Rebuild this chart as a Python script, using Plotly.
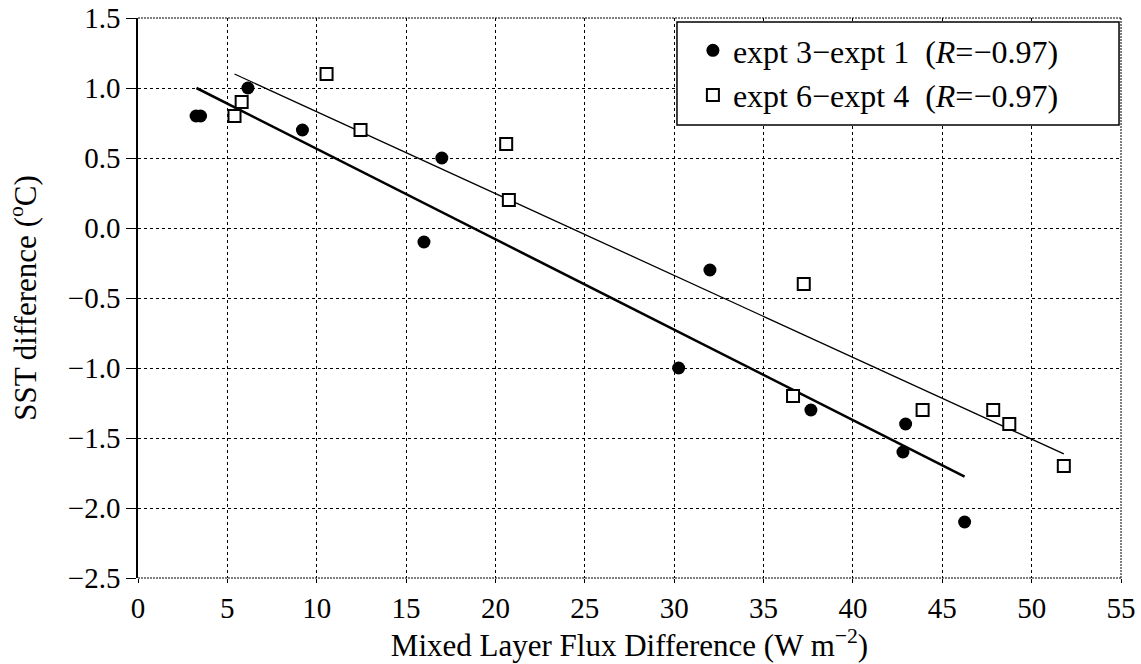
import plotly.graph_objects as go

# expt 3 - expt 1 (filled circles)
flux_31 = [3.25, 3.5, 6.15, 9.2, 16.0, 17.0, 30.25, 32.0, 37.65, 42.8, 42.95, 46.25]
sst_31 = [0.8, 0.8, 1.0, 0.7, -0.1, 0.5, -1.0, -0.3, -1.3, -1.6, -1.4, -2.1]

# expt 6 - expt 4 (open squares)
flux_64 = [5.4, 5.8, 10.55, 12.45, 20.6, 20.75, 36.65, 37.25, 43.9, 47.85, 48.75, 51.8]
sst_64 = [0.8, 0.9, 1.1, 0.7, 0.6, 0.2, -1.2, -0.4, -1.3, -1.3, -1.4, -1.7]

# regression line end points
fit31_x = [3.27, 46.25]
fit31_y = [1.0, -1.776]
fit64_x = [5.4, 51.8]
fit64_y = [1.1, -1.614]

x_ticks = [0, 5, 10, 15, 20, 25, 30, 35, 40, 45, 50, 55]
y_ticks = [1.5, 1.0, 0.5, 0.0, -0.5, -1.0, -1.5, -2.0, -2.5]

names = ["expt 3\u2212expt 1\u00a0\u00a0(<i>R</i>=\u22120.97)",
         "expt 6\u2212expt 4\u00a0\u00a0(<i>R</i>=\u22120.97)"]

FONT = "Liberation Serif"

fig = go.Figure()
fig.add_trace(go.Scatter(x=fit31_x, y=fit31_y, mode="lines",
                         line=dict(color="black", width=2.6), showlegend=False, hoverinfo="skip"))
fig.add_trace(go.Scatter(x=fit64_x, y=fit64_y, mode="lines",
                         line=dict(color="black", width=1.3), showlegend=False, hoverinfo="skip"))
fig.add_trace(go.Scatter(x=flux_31, y=sst_31, mode="markers", name=names[0],
                         marker=dict(symbol="circle", size=13, color="black",
                                     line=dict(width=0))))
fig.add_trace(go.Scatter(x=flux_64, y=sst_64, mode="markers", name=names[1],
                         marker=dict(symbol="square", size=12, color="white",
                                     line=dict(width=2, color="black"))))

# dotted frame on top, right and bottom
for x0, y0, x1, y1 in [(0, 1, 1, 1), (1, 0, 1, 1), (0, 0, 1, 0)]:
    fig.add_shape(type="line", xref="paper", yref="paper", x0=x0, y0=y0, x1=x1, y1=y1,
                  line=dict(color="black", width=1, dash="2px,1px"), layer="above")

# legend frame
fig.add_shape(type="rect", xref="paper", yref="paper", x0=0.5483, x1=0.998, y0=0.809, y1=0.993,
              fillcolor="white", line=dict(color="black", width=1.5), layer="above")

fig.update_layout(
    width=1141, height=664,
    margin=dict(l=138, r=20, t=18, b=86),
    paper_bgcolor="white", plot_bgcolor="white",
    font=dict(family=FONT, size=29, color="black"),
    showlegend=True,
    legend=dict(x=0.5645, y=0.991, xanchor="left", yanchor="top",
                bgcolor="rgba(0,0,0,0)", borderwidth=0,
                font=dict(family=FONT, size=32, color="black"),
                tracegroupgap=0),
)
fig.update_xaxes(
    range=[0, 55], tickvals=x_ticks, ticktext=[str(v) for v in x_ticks],
    showgrid=True, gridcolor="black", gridwidth=1, griddash="3px,3px",
    zeroline=False, showline=False, automargin=False,
    ticks="outside", ticklen=4, tickcolor="black",
    tickfont=dict(family=FONT, size=29),
    title=dict(text="Mixed Layer Flux Difference (W m<sup>\u22122</sup>)",
               font=dict(family=FONT, size=31), standoff=6),
)
fig.update_yaxes(
    range=[-2.5, 1.5], tickvals=y_ticks, ticktext=[f"{v:.1f}".replace("-", "\u2212") for v in y_ticks],
    showgrid=True, gridcolor="black", gridwidth=1, griddash="3px,3px",
    zeroline=False, showline=True, linecolor="black", linewidth=1.5, automargin=False,
    ticks="outside", ticklen=10, tickcolor="black",
    tickfont=dict(family=FONT, size=29),
    title=dict(text="SST difference (<sup>o</sup>C)", font=dict(family=FONT, size=31), standoff=22),
)

fig.write_html("out.html")
